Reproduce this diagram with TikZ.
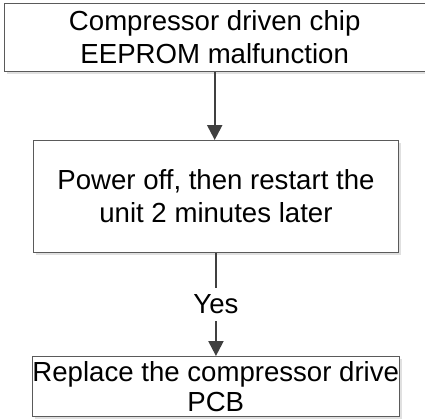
\documentclass[tikz,border=0pt]{standalone}
\usepackage{fontspec}
\setmainfont{Liberation Sans}
\usepackage{xcolor}
\usepackage{tikz}
\usetikzlibrary{calc, positioning, arrows.meta, shadows}

\definecolor{linegray}{HTML}{404040}
\definecolor{boxgray}{HTML}{5A5A5A}

\begin{document}
\begin{tikzpicture}[x=1pt, y=-1pt,
    stepbox/.style={draw=boxgray, line width=0.9pt, fill=white, inner sep=0pt,
        align=center, anchor=north west,
        font=\fontsize{27.6}{33}\selectfont,
        drop shadow={shadow xshift=2.5pt, shadow yshift=-2.5pt, fill=black!12, opacity=1}},
    flow/.style={draw=linegray, line width=2.2pt, -{Triangle[width=15pt, length=15pt]}}]

    % =================================================================
    % 1. KHUNG HINH
    % =================================================================
    \useasboundingbox (0,0) rectangle (425,418);

    % =================================================================
    % 2. CAC HOP
    % =================================================================
    \node[stepbox, minimum width=420.5pt, minimum height=68pt] (chip) at (4,3)
        {Compressor driven chip\\EEPROM malfunction};
    \node[stepbox, minimum width=365pt, minimum height=112pt] (restart) at (33,140)
        {Power off, then restart the\\unit 2 minutes later};
    \node[stepbox, minimum width=366pt, minimum height=60pt,
        font=\fontsize{27.6}{30.5}\selectfont] (pcb) at (32,356)
        {Replace the compressor drive\\PCB};

    % =================================================================
    % 3. MUI TEN
    % =================================================================
    \draw[flow] (chip.south) -- (chip.south |- restart.north);
    \draw[flow] (restart.south) -- node[fill=white, inner sep=7pt,
        font=\fontsize{27.6}{33}\selectfont] (yes) {Yes} (restart.south |- pcb.north);

\end{tikzpicture}
\end{document}
